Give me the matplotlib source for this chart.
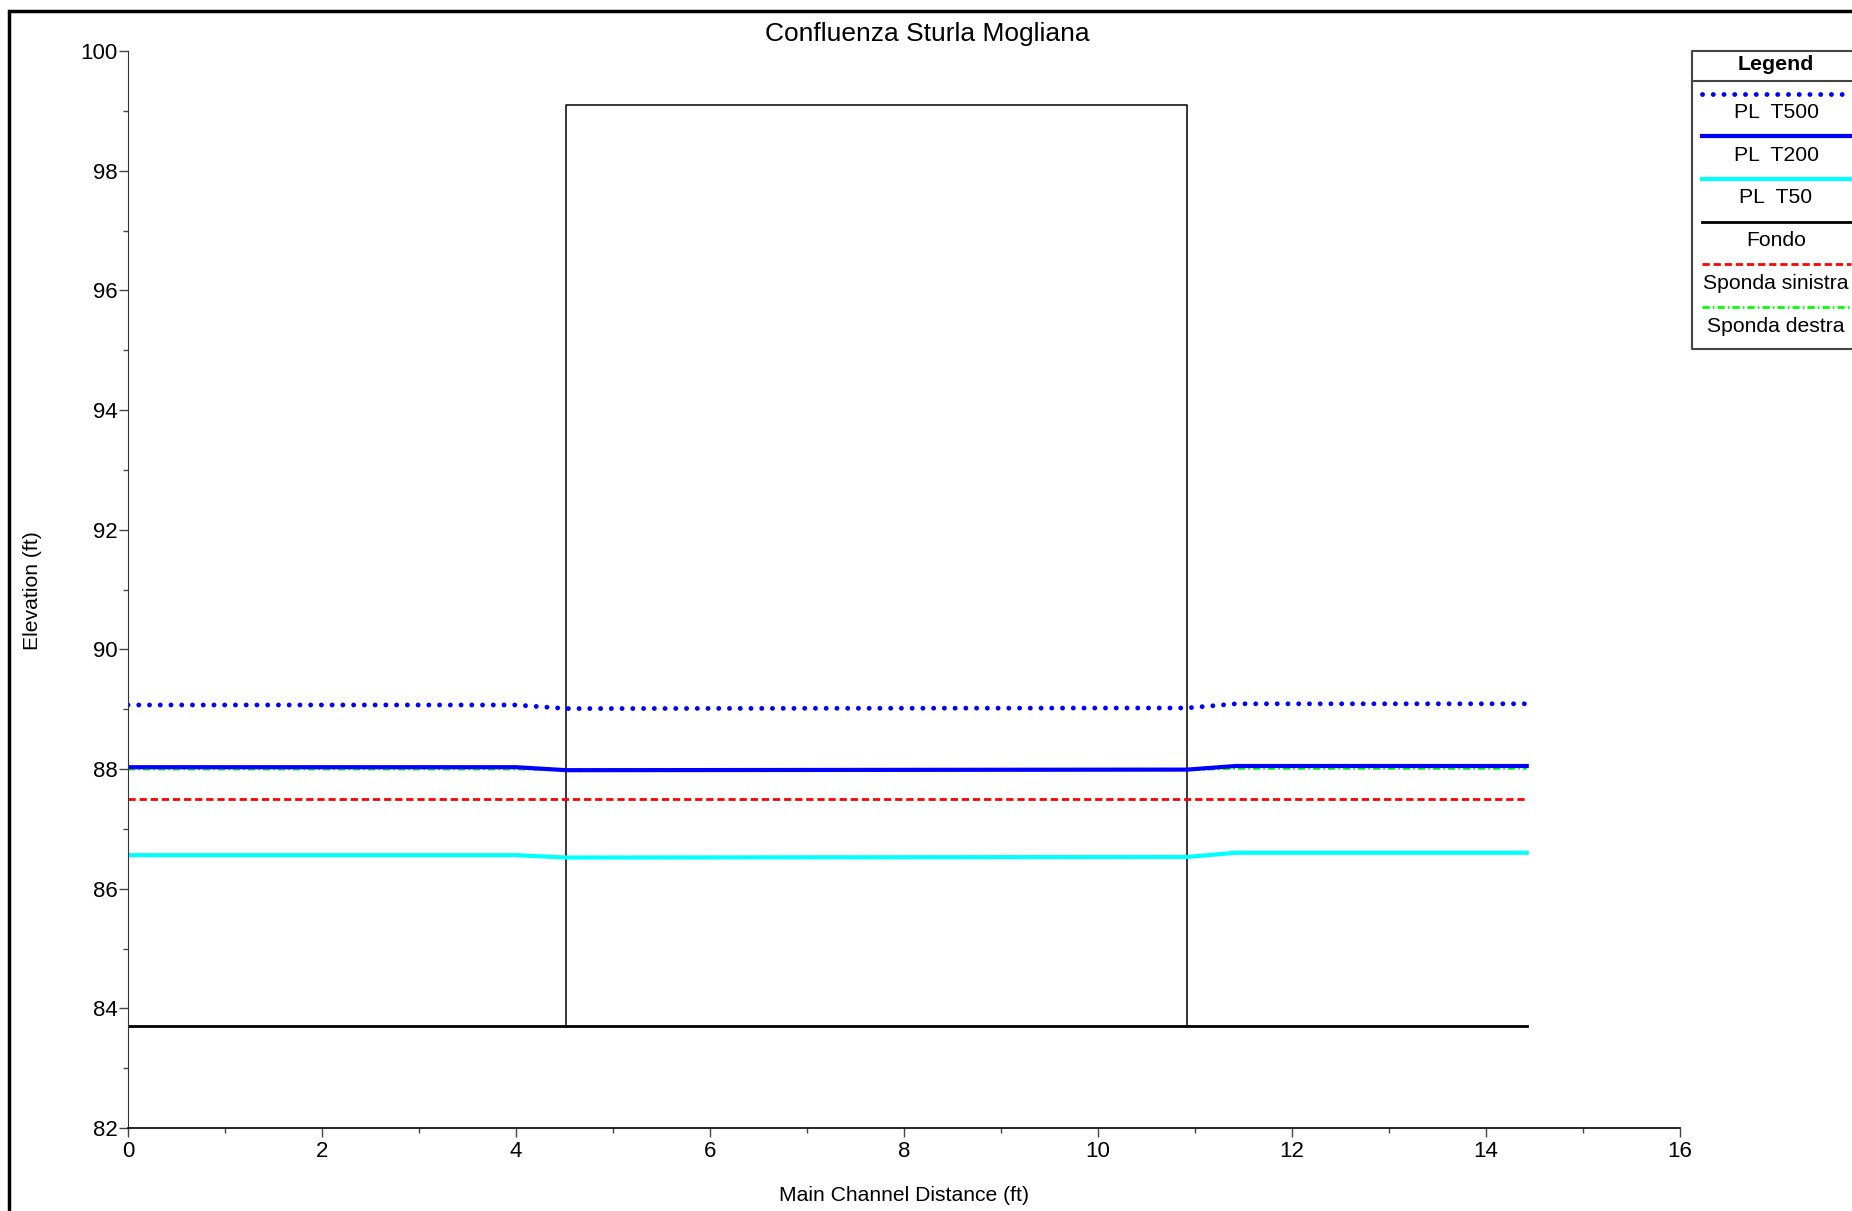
import matplotlib
matplotlib.use("Agg")
import matplotlib.pyplot as plt
from matplotlib.lines import Line2D
from matplotlib.ticker import MultipleLocator

plt.rcParams["font.family"] = ["Liberation Sans", "DejaVu Sans"]

# cross-section stations (ft) and water surfaces (ft)
station = [0.0, 4.0, 4.52, 10.92, 11.42, 14.42]
pl_t500 = [89.07, 89.07, 89.01, 89.02, 89.09, 89.09]
pl_t200 = [88.03, 88.03, 87.98, 87.99, 88.05, 88.05]
pl_t50 = [86.56, 86.56, 86.52, 86.53, 86.60, 86.60]
fondo = [83.70, 83.70, 83.70, 83.70, 83.70, 83.70]
sponda_sinistra = [87.50, 87.50, 87.50, 87.50, 87.50, 87.50]
sponda_destra = [88.00, 88.00, 87.99, 87.99, 88.01, 88.01]

# bridge deck outline
bridge_x = [4.52, 4.52, 10.92, 10.92]
bridge_y = [83.70, 99.10, 99.10, 83.70]

DOT = dict(color="blue", lw=3.5, ls=(0, (0.01, 2.2)), dash_capstyle="round")
RED = dict(color="red", lw=2, ls=(0, (2.6, 1.4)))
GREEN = dict(color="#00ff00", lw=2, ls=(0, (2.6, 1.1, 0.6, 1.1)))

W, H = 1852, 1211
fig = plt.figure(figsize=(W / 100, H / 100), dpi=100)
ax = fig.add_axes([128 / W, 1 - 1128 / H, (1680 - 128) / W, (1128 - 51) / H])

ax.plot(bridge_x, bridge_y, color="black", lw=1.1)
ax.plot(station, sponda_destra, **GREEN)
ax.plot(station, sponda_sinistra, **RED)
ax.plot(station, fondo, color="black", lw=2)
ax.plot(station, pl_t50, color="cyan", lw=3)
ax.plot(station, pl_t200, color="blue", lw=3)
ax.plot(station, pl_t500, **DOT)

ax.set_xlim(0, 16)
ax.set_ylim(82, 100)
ax.xaxis.set_major_locator(MultipleLocator(2))
ax.xaxis.set_minor_locator(MultipleLocator(1))
ax.yaxis.set_major_locator(MultipleLocator(2))
ax.yaxis.set_minor_locator(MultipleLocator(1))
for s in ("top", "right"):
    ax.spines[s].set_visible(False)
ax.spines["left"].set_color("#333333")
ax.spines["bottom"].set_color("black")
ax.spines["bottom"].set_linewidth(1.2)
ax.tick_params(which="major", length=6.2, width=1, color="#444444", labelsize=16)
ax.tick_params(which="minor", length=3.6, width=1, color="#444444")
ax.tick_params(axis="x", which="major", pad=3)
ax.tick_params(axis="y", which="major", pad=1)

fig.text(927 / W, 1 - 41 / H, "Confluenza Sturla Mogliana", ha="center", va="baseline", fontsize=19)
fig.text(32 / W, 1 - 591 / H, "Elevation (ft)", rotation=90, ha="center", va="center", fontsize=15.2)
fig.text(904 / W, 1 - 1201 / H, "Main Channel Distance (ft)", ha="center", va="baseline", fontsize=15.2)

# overlay in pixel coordinates for frame and legend box
ov = fig.add_axes([0, 0, 1, 1], zorder=5)
ov.set_xlim(0, W)
ov.set_ylim(H, 0)
ov.axis("off")
ov.plot([9, 9, W + 5], [H + 5, 11, 11], color="black", lw=2.5, solid_joinstyle="miter")

ov.plot([W + 5, 1692, 1692, W + 5], [51, 51, 349, 349], color="#444444", lw=1.5)
ov.plot([1692, W + 5], [81, 81], color="#444444", lw=1.5)
ov.text(1776, 65, "Legend", ha="center", va="center", fontsize=15.4, fontweight="bold")

legend_items = [
    ("PL  T500", DOT),
    ("PL  T200", dict(color="blue", lw=3)),
    ("PL  T50", dict(color="cyan", lw=3)),
    ("Fondo", dict(color="black", lw=2)),
    ("Sponda sinistra", RED),
    ("Sponda destra", GREEN),
]
for i, (lab, style) in enumerate(legend_items):
    yl = 93.5 + i * 42.7
    ov.add_line(Line2D([1702, 1851], [yl, yl], **style))
    ov.text(1776, yl + 19, lab, ha="center", va="center", fontsize=15.2)

fig.savefig("out.png", dpi=100)
